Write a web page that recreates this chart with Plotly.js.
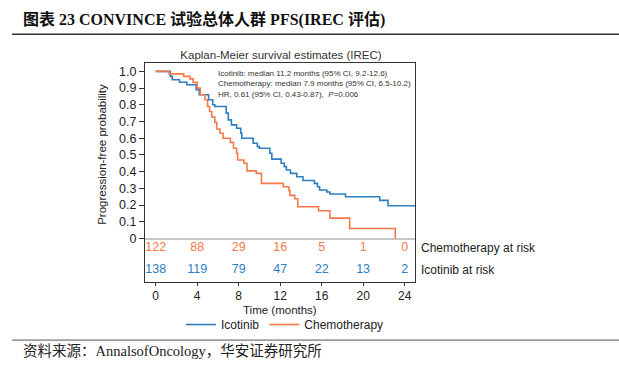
<!DOCTYPE html>
<html>
<head>
<meta charset="utf-8">
<script src="https://cdn.plot.ly/plotly-3.0.1.min.js"></script>
<style>html,body{margin:0;padding:0;background:#fff;}#chart{width:619px;height:365px;}</style>
</head>
<body>
<div id="chart"></div>
<script>
// Icotinib KM steps (months, survival)
const icoTime = [0, 1.4, 1.6, 2.3, 3.0, 3.9, 4.2, 5.1, 5.5, 5.7, 6.8, 7.0, 7.3, 7.8, 8.2, 8.3, 9.4, 9.8, 10.0, 11.0, 11.2, 12.1, 12.4, 12.6, 13.0, 13.6, 14.2, 15.3, 15.6, 15.8, 16.5, 16.8, 18.3, 21.6, 22.4, 25.0];
const icoSurv = [1.0, 0.97, 0.95, 0.935, 0.92, 0.89, 0.86, 0.83, 0.80, 0.79, 0.75, 0.71, 0.68, 0.66, 0.63, 0.60, 0.57, 0.55, 0.54, 0.51, 0.475, 0.45, 0.43, 0.41, 0.39, 0.37, 0.347, 0.33, 0.31, 0.29, 0.278, 0.266, 0.25, 0.228, 0.196, 0.196];
// Chemotherapy KM steps
const chemoTime = [0, 1.3, 2.7, 3.3, 3.6, 4.0, 4.3, 4.75, 5.0, 5.2, 5.4, 5.7, 5.9, 6.2, 6.5, 7.2, 7.5, 7.8, 7.9, 8.5, 8.8, 9.7, 10.2, 12.3, 12.85, 12.95, 13.4, 13.7, 15.7, 16.8, 18.7, 23.1];
const chemoSurv = [1.0, 0.985, 0.97, 0.955, 0.934, 0.90, 0.86, 0.83, 0.79, 0.76, 0.727, 0.695, 0.655, 0.63, 0.60, 0.575, 0.54, 0.51, 0.47, 0.45, 0.405, 0.39, 0.33, 0.31, 0.286, 0.258, 0.238, 0.19, 0.166, 0.122, 0.06, 0];
// Numbers at risk
const riskTimes = [0, 4, 8, 12, 16, 20, 24];
const chemoRisk = [122, 88, 29, 16, 5, 1, 0];
const icoRisk = [138, 119, 79, 47, 22, 13, 2];
const yTickVals = [0, 0.1, 0.2, 0.3, 0.4, 0.5, 0.6, 0.7, 0.8, 0.9, 1.0];
const yTickText = ['0', '0.1', '0.2', '0.3', '0.4', '0.5', '0.6', '0.7', '0.8', '0.9', '1.0'];

const BLUE = '#2e7ec2';
const ORANGE = '#f4794b';
const SANS = 'Liberation Sans, Arial, sans-serif';
const SERIF = 'Liberation Serif, Times New Roman, Noto Sans CJK SC, serif';

const chemoRowY = -0.0575, icoRowY = -0.187;

const traces = [
  {x: icoTime, y: icoSurv, type: 'scatter', mode: 'lines', name: 'Icotinib',
   line: {color: BLUE, width: 1.6, shape: 'hv'}},
  {x: chemoTime, y: chemoSurv, type: 'scatter', mode: 'lines', name: 'Chemotherapy',
   line: {color: ORANGE, width: 1.6, shape: 'hv'}},
  {x: riskTimes, y: riskTimes.map(() => chemoRowY), type: 'scatter', mode: 'text',
   text: chemoRisk.map(String), textposition: 'middle center', showlegend: false, cliponaxis: false,
   textfont: {family: SANS, size: 12.5, color: ORANGE}, hoverinfo: 'skip'},
  {x: riskTimes, y: riskTimes.map(() => icoRowY), type: 'scatter', mode: 'text',
   text: icoRisk.map(String), textposition: 'middle center', showlegend: false, cliponaxis: false,
   textfont: {family: SANS, size: 12.5, color: BLUE}, hoverinfo: 'skip'}
];

const pxX = px => (px - 145) / 270;
const pxY = py => (282 - py) / 218.7;

const layout = {
  width: 619, height: 365,
  margin: {l: 145, r: 204, t: 63, b: 83},
  paper_bgcolor: '#fff', plot_bgcolor: '#fff',
  showlegend: true,
  legend: {orientation: 'h', x: pxX(181), y: pxY(310), xanchor: 'left', yanchor: 'top',
           font: {family: SANS, size: 12, color: '#222'}, bgcolor: 'rgba(0,0,0,0)'},
  title: {text: 'Kaplan-Meier survival estimates (IREC)', x: pxX(281), xref: 'paper', xanchor: 'center',
          y: 1 - 55 / 365, yref: 'container', yanchor: 'middle',
          font: {family: SANS, size: 11.5, color: '#333'}},
  xaxis: {range: [-1.03, 25.0], tickvals: riskTimes, ticks: 'outside', ticklen: 3, tickcolor: '#333',
          showline: true, mirror: true, linecolor: '#333', linewidth: 1, showgrid: false, zeroline: false,
          tickfont: {family: SANS, size: 12, color: '#222'}, fixedrange: true},
  yaxis: {range: [-0.26, 1.05], tickvals: yTickVals, ticktext: yTickText, ticks: 'outside', ticklen: 5,
          tickcolor: '#333', showline: true, mirror: true, linecolor: '#333', linewidth: 1, showgrid: false,
          zeroline: true, zerolinecolor: '#c8c8c8', zerolinewidth: 2,
          tickfont: {family: SANS, size: 12.5, color: '#222'}, fixedrange: true},
  shapes: [
    {type: 'line', xref: 'paper', yref: 'paper', x0: pxX(12), x1: pxX(619), y0: pxY(34.5), y1: pxY(34.5),
     line: {color: '#333', width: 1.5}},
    {type: 'line', xref: 'paper', yref: 'paper', x0: pxX(12), x1: pxX(619), y0: pxY(340), y1: pxY(340),
     line: {color: '#555', width: 1}}
  ],
  annotations: [
    {text: '<b>图表 23 CONVINCE 试验总体人群 PFS(IREC 评估)</b>', xref: 'paper', yref: 'paper',
     x: pxX(21), y: pxY(20), xanchor: 'left', yanchor: 'middle', showarrow: false,
     font: {family: SERIF, size: 16, color: '#111'}},
    {text: '资料来源：AnnalsofOncology，华安证券研究所', xref: 'paper', yref: 'paper',
     x: pxX(21), y: pxY(351), xanchor: 'left', yanchor: 'middle', showarrow: false,
     font: {family: SERIF, size: 14.5, color: '#222'}},
    {text: 'Progression-free probability', xref: 'paper', yref: 'paper', x: pxX(102), y: pxY(155),
     textangle: -90, xanchor: 'center', yanchor: 'middle', showarrow: false,
     font: {family: SANS, size: 11.5, color: '#222'}},
    {text: 'Time (months)', xref: 'paper', yref: 'paper', x: pxX(280), y: pxY(309.5),
     xanchor: 'center', yanchor: 'middle', showarrow: false,
     font: {family: SANS, size: 11.5, color: '#222'}},
    {text: 'Chemotherapy at risk', xref: 'paper', yref: 'y', x: pxX(419), y: chemoRowY,
     xanchor: 'left', yanchor: 'middle', showarrow: false, font: {family: SANS, size: 12, color: '#222'}},
    {text: 'Icotinib at risk', xref: 'paper', yref: 'y', x: pxX(419), y: icoRowY,
     xanchor: 'left', yanchor: 'middle', showarrow: false, font: {family: SANS, size: 12, color: '#222'}},
    {text: 'Icotinib: median 11.2 months (95% CI, 9.2-12.6)', xref: 'paper', yref: 'paper',
     x: pxX(216), y: pxY(73.3), xanchor: 'left', yanchor: 'middle', showarrow: false,
     font: {family: SANS, size: 8, color: '#333'}},
    {text: 'Chemotherapy: median 7.9 months (95% CI, 6.5-10.2)', xref: 'paper', yref: 'paper',
     x: pxX(216), y: pxY(84), xanchor: 'left', yanchor: 'middle', showarrow: false,
     font: {family: SANS, size: 8, color: '#333'}},
    {text: 'HR, 0.61 (95% CI, 0.43-0.87),  <i>P</i>=0.006', xref: 'paper', yref: 'paper',
     x: pxX(216), y: pxY(94.5), xanchor: 'left', yanchor: 'middle', showarrow: false,
     font: {family: SANS, size: 8, color: '#333'}}
  ]
};

Plotly.newPlot('chart', traces, layout, {staticPlot: true, displayModeBar: false});
</script>
</body>
</html>
